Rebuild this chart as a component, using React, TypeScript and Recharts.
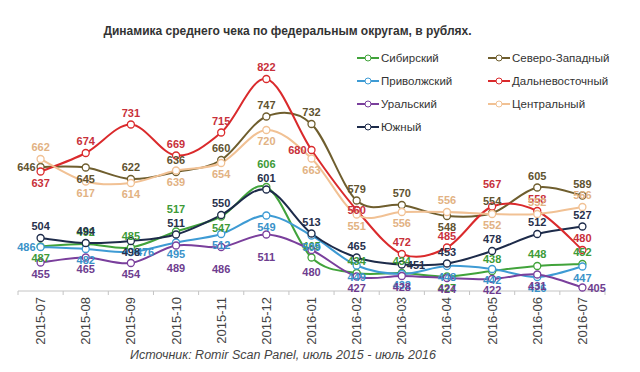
import { LineChart, Line, XAxis, YAxis, LabelList } from 'recharts';

const months = [
  '2015-07', '2015-08', '2015-09', '2015-10', '2015-11', '2015-12', '2016-01',
  '2016-02', '2016-03', '2016-04', '2016-05', '2016-06', '2016-07',
];

const sibirsky = [487, 492, 485, 517, 547, 606, 465, 434, 434, 427, 438, 448, 452];
const privolzhsky = [486, 482, 476, 495, 512, 549, 509, 449, 432, 448, 442, 426, 447];
const uralsky = [455, 465, 454, 489, 486, 511, 480, 427, 428, 424, 422, 431, 405];
const yuzhny = [504, 494, 498, 511, 550, 601, 513, 465, 451, 453, 478, 512, 527];
const severoZapadny = [646, 645, 622, 636, 660, 747, 732, 579, 570, 548, 554, 605, 589];
const dalnevostochny = [637, 674, 731, 669, 715, 822, 680, 560, 472, 485, 567, 558, 480];
const centralny = [662, 617, 614, 639, 654, 720, 663, 551, 556, 556, 552, 552, 566];

// where each value label sits relative to its point
// t/b above/below, T/B further, l/r left/right, c on the point
const sibPlace = ['b', 't', 't', 'T', 'b', 'T', 't', 't', 't', 'b', 't', 't', 't'];
const privPlace = ['l', 'b', 'r', 'b', 'b', 'b', 'b', 'b', 'b', 'b', 'b', 'b', 'b'];
const uralPlace = ['b', 'b', 'b', 'B', 'B', 'B', 'B', 'b', 'b', 'b', 'b', 'b', 'r'];
const yuzhPlace = ['t', 't', 'b', 't', 't', 't', 't', 't', 'r', 't', 't', 't', 't'];
const szPlace = ['l', 'b', 't', 't', 't', 't', 't', 't', 't', 'b', 't', 't', 't'];
const dvPlace = ['b', 't', 't', 't', 't', 't', 'l', 'c', 't', 't', 'T', 't', 't'];
const centrPlace = ['t', 'b', 'b', 'b', 'b', 'b', 'b', 'b', 'b', 't', 'b', 't', 't'];

const series = [
  { key: 'sib', name: 'Сибирский', color: '#41a33b', text: '#3d9a37', values: sibirsky, place: sibPlace },
  { key: 'priv', name: 'Приволжский', color: '#3e9bd4', text: '#3a92c9', values: privolzhsky, place: privPlace },
  { key: 'ural', name: 'Уральский', color: '#7a3f9c', text: '#6e3d8f', values: uralsky, place: uralPlace },
  { key: 'yuzh', name: 'Южный', color: '#1d2b4a', text: '#27304c', values: yuzhny, place: yuzhPlace },
  { key: 'sz', name: 'Северо-Западный', color: '#6f5e2e', text: '#5f5330', values: severoZapadny, place: szPlace },
  { key: 'dv', name: 'Дальневосточный', color: '#da2a2c', text: '#c8303a', values: dalnevostochny, place: dvPlace },
  { key: 'centr', name: 'Центральный', color: '#f1c194', text: '#e2b283', values: centralny, place: centrPlace },
];

const data = months.map((month, i) => {
  const row: Record<string, string | number> = { month };
  series.forEach((s) => { row[s.key] = s.values[i]; });
  return row;
});

const W = 640;
const H = 372;
const LEFT = 18;
const RIGHT = 35;
const STEP = (W - LEFT - RIGHT) / months.length;
const FONT = '"Liberation Sans", Arial, sans-serif';

// Excel-like smoothing (Catmull-Rom through every point)
const smoothCurve = (context: any) => {
  let pts: number[][] = [];
  return {
    areaStart() {},
    areaEnd() {},
    lineStart() { pts = []; },
    point(x: number, y: number) { pts.push([+x, +y]); },
    lineEnd() {
      if (!pts.length) return;
      context.moveTo(pts[0][0], pts[0][1]);
      for (let i = 0; i < pts.length - 1; i++) {
        const p0 = pts[i - 1] || pts[i];
        const p1 = pts[i];
        const p2 = pts[i + 1];
        const p3 = pts[i + 2] || p2;
        context.bezierCurveTo(
          p1[0] + (p2[0] - p0[0]) / 6, p1[1] + (p2[1] - p0[1]) / 6,
          p2[0] - (p3[0] - p1[0]) / 6, p2[1] - (p3[1] - p1[1]) / 6,
          p2[0], p2[1],
        );
      }
    },
  };
};

const makeLabel = (color: string, place: string[]) => (props: any) => {
  const { x, y, value, index } = props;
  let dx = 0;
  let dy = -8;
  let anchor = 'middle';
  switch (place[index]) {
    case 'b': dy = 15; break;
    case 'T': dy = -19; break;
    case 'B': dy = 26; break;
    case 'l': dx = -5; dy = 4; anchor = 'end'; break;
    case 'r': dx = 5; dy = 4; anchor = 'start'; break;
    case 'c': dy = 4; break;
  }
  return (
    <text x={x + dx} y={y + dy} textAnchor={anchor} fill={color}
      fontSize={11} fontWeight="bold" fontFamily={FONT}>
      {value}
    </text>
  );
};

const MonthTick = (props: any) => {
  const { x, y, payload, index } = props;
  const last = index === months.length - 1;
  return (
    <g>
      <line x1={x - STEP / 2} x2={x - STEP / 2} y1={y} y2={y + 4} stroke="#c4c4c4" />
      {last && <line x1={x + STEP / 2} x2={x + STEP / 2} y1={y} y2={y + 4} stroke="#c4c4c4" />}
      <text transform={`translate(${x + 4.5},${y + 6}) rotate(-90)`} textAnchor="end"
        fill="#444" fontSize={13} fontFamily={FONT}>
        {payload.value}
      </text>
    </g>
  );
};

const LegendMark = ({ color }: { color: string }) => (
  <svg width={22} height={10} style={{ marginRight: 2 }}>
    <line x1={0} x2={22} y1={5} y2={5} stroke={color} strokeWidth={2} />
    <circle cx={11} cy={5} r={3} fill="#fff" stroke={color} strokeWidth={1} />
  </svg>
);

export default function App() {
  return (
    <div style={{ position: 'relative', width: W, height: H, background: '#fff', fontFamily: FONT }}>
      <style>{'body{margin:0}'}</style>
      <LineChart width={W} height={H} data={data}
        margin={{ top: 40, right: RIGHT, left: LEFT, bottom: 21 }}>
        <XAxis dataKey="month" height={60} padding={{ left: STEP / 2, right: STEP / 2 }}
          axisLine={{ stroke: '#c4c4c4' }} tickLine={false} tickSize={0} tickMargin={0}
          interval={0} tick={<MonthTick />} />
        <YAxis hide domain={[398, 900]} />
        {series.map((s) => (
          <Line key={s.key} dataKey={s.key} name={s.name} type={smoothCurve as any}
            stroke={s.color} strokeWidth={2}
            dot={{ r: 3.5, fill: '#fff', stroke: s.color, strokeWidth: 1.3 }}
            activeDot={false} isAnimationActive={false}>
            <LabelList dataKey={s.key} content={makeLabel(s.text, s.place)} />
          </Line>
        ))}
      </LineChart>

      <div style={{ position: 'absolute', left: 0, width: 575, top: 24, textAlign: 'center',
        fontSize: 12, fontWeight: 'bold', color: '#333' }}>
        Динамика среднего чека по федеральным округам, в рублях.
      </div>

      <div style={{ position: 'absolute', left: 357, top: 46, display: 'grid',
        gridTemplateRows: 'repeat(4, 23px)', gridAutoFlow: 'column', gridTemplateColumns: '131px 131px',
        fontSize: 11.5, color: '#333' }}>
        {series.map((s) => (
          <div key={s.key} style={{ display: 'flex', alignItems: 'center' }}>
            <LegendMark color={s.color} />
            {s.name}
          </div>
        ))}
      </div>

      <div style={{ position: 'absolute', left: 0, width: 566, top: 348, textAlign: 'center',
        fontSize: 12.5, fontStyle: 'italic', color: '#444' }}>
        Источник: Romir Scan Panel, июль 2015 - июль 2016
      </div>
    </div>
  );
}
